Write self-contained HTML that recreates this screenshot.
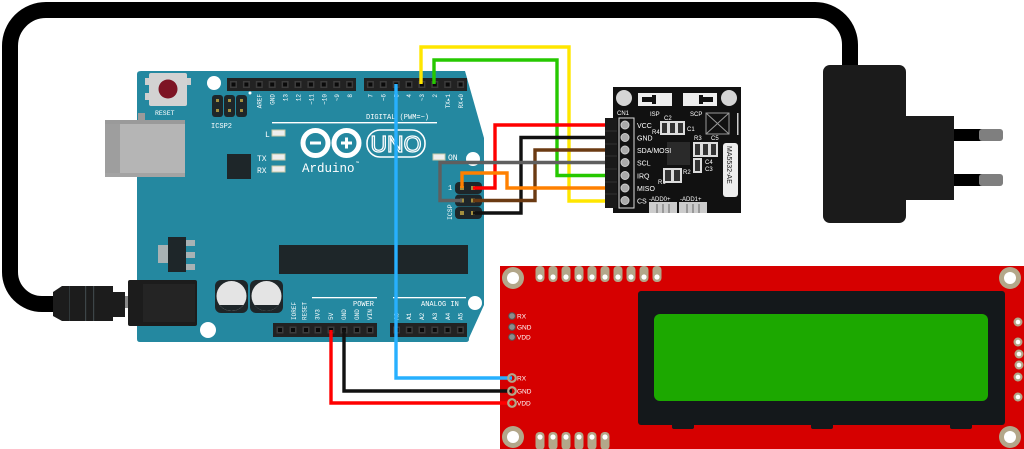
<!DOCTYPE html>
<html><head><meta charset="utf-8"><style>
html,body{margin:0;padding:0;background:#fff;}
svg{display:block;}
text{font-family:"Liberation Mono",monospace;}
.s{font-family:"Liberation Sans",sans-serif;}
</style></head><body>
<svg width="1024" height="449" viewBox="0 0 1024 449" xmlns="http://www.w3.org/2000/svg">
<defs>
<g id="p"><rect x="-3.5" y="-3.5" width="7" height="7" fill="#3c3c3c"/><rect x="-2" y="-2" width="4" height="4" fill="#0a0a0a"/></g>
<g id="tp"><rect x="-4.5" y="0" width="9" height="16" rx="4" fill="#b3a78a"/><circle cx="0" cy="11" r="2.6" fill="#fff"/></g>
<g id="bp"><rect x="-4.5" y="0" width="9" height="18" rx="4" fill="#b3a78a"/><circle cx="0" cy="5" r="2.6" fill="#fff"/></g>
</defs>
<rect width="1024" height="449" fill="#fff"/>

<!-- power cable -->
<path d="M850,72 V46 A35,35 0 0 0 815,10 H46 A36,36 0 0 0 10,46 V272 A32,32 0 0 0 42,304 H60" fill="none" stroke="#000" stroke-width="16"/>
<!-- adapter -->
<rect x="823" y="65" width="83" height="158" rx="7" fill="#1b1b1b"/>
<rect x="906" y="116" width="48" height="84" fill="#1b1b1b"/>
<rect x="954" y="129" width="28" height="12" fill="#000"/>
<rect x="979" y="129" width="24" height="12" rx="3" fill="#7f7f7f"/>
<rect x="954" y="174" width="28" height="12" fill="#000"/>
<rect x="979" y="174" width="24" height="12" rx="3" fill="#7f7f7f"/>

<!-- Arduino board -->
<path d="M141,71 H465 L484,138 V305 L469,338 V339 Q469,342 466,342 H140 Q137,342 137,339 V74 Q137,71 141,71 Z" fill="#2488a0"/>
<!-- USB -->
<rect x="138" y="113" width="7" height="8" fill="#9a9a9a"/>
<rect x="105" y="120" width="80" height="57" fill="#b5b5b5"/>
<rect x="105" y="120" width="15" height="57" fill="#9e9e9e"/>
<rect x="105" y="120" width="80" height="4" fill="#9a9a9a"/>
<rect x="105" y="173" width="80" height="4" fill="#a3a3a3"/>
<!-- reset -->
<rect x="145" y="78" width="5" height="7" fill="#cfcfcf"/><rect x="145" y="93" width="5" height="7" fill="#cfcfcf"/>
<rect x="186" y="78" width="5" height="7" fill="#cfcfcf"/>
<rect x="149" y="73" width="38" height="33" rx="2" fill="#d2d2d2"/>
<circle cx="168" cy="89" r="9.5" fill="#7d1424"/>
<text x="155" y="115" font-size="6.5" fill="#fff">RESET</text>
<circle cx="214" cy="83" r="7" fill="#fff"/>
<!-- ICSP2 -->
<rect x="212" y="95" width="11" height="22" rx="3" fill="#1e2629"/>
<rect x="224" y="95" width="11" height="22" rx="3" fill="#1e2629"/>
<rect x="236" y="95" width="11" height="22" rx="3" fill="#1e2629"/>
<rect x="216" y="99" width="3" height="3" fill="#a38f3f"/><rect x="216" y="109" width="3" height="3" fill="#a38f3f"/>
<rect x="228" y="99" width="3" height="3" fill="#a38f3f"/><rect x="228" y="109" width="3" height="3" fill="#a38f3f"/>
<rect x="240" y="99" width="3" height="3" fill="#a38f3f"/><rect x="240" y="109" width="3" height="3" fill="#a38f3f"/>
<circle cx="250" cy="93" r="1.5" fill="#fff"/>
<text x="211" y="128" font-size="7" fill="#fff">ICSP2</text>

<!-- digital headers -->
<rect x="227" y="78" width="129" height="13" fill="#222"/>
<rect x="364" y="78" width="103" height="13" fill="#222"/>
<use href="#p" x="233.5" y="84.5"/><use href="#p" x="246.4" y="84.5"/><use href="#p" x="259.3" y="84.5"/><use href="#p" x="272.2" y="84.5"/><use href="#p" x="285.1" y="84.5"/><use href="#p" x="298" y="84.5"/><use href="#p" x="310.9" y="84.5"/><use href="#p" x="323.8" y="84.5"/><use href="#p" x="336.7" y="84.5"/><use href="#p" x="349.6" y="84.5"/>
<use href="#p" x="370.4" y="84.5"/><use href="#p" x="383.3" y="84.5"/><use href="#p" x="396.2" y="84.5"/><use href="#p" x="409" y="84.5"/><use href="#p" x="421.9" y="84.5"/><use href="#p" x="434.8" y="84.5"/><use href="#p" x="447.7" y="84.5"/><use href="#p" x="460.6" y="84.5"/>
<g font-size="6" fill="#fff" text-anchor="end">
<text transform="translate(261.5,94) rotate(-90)">AREF</text>
<text transform="translate(274.5,94) rotate(-90)">GND</text>
<text transform="translate(287.5,94) rotate(-90)">13</text>
<text transform="translate(300.5,94) rotate(-90)">12</text>
<text transform="translate(313.5,94) rotate(-90)">~11</text>
<text transform="translate(326.5,94) rotate(-90)">~10</text>
<text transform="translate(339,94) rotate(-90)">~9</text>
<text transform="translate(352,94) rotate(-90)">8</text>
<text transform="translate(372.5,94) rotate(-90)">7</text>
<text transform="translate(385.5,94) rotate(-90)">~6</text>
<text transform="translate(398.5,94) rotate(-90)">~5</text>
<text transform="translate(411,94) rotate(-90)">4</text>
<text transform="translate(424,94) rotate(-90)">~3</text>
<text transform="translate(437,94) rotate(-90)">2</text>
<text transform="translate(450,94) rotate(-90)">TX▸1</text>
<text transform="translate(463,94) rotate(-90)">RX◂0</text>
</g>
<rect x="272" y="122" width="165" height="1.4" fill="#fff"/>
<text x="366" y="119" font-size="7" fill="#fff">DIGITAL (PWM=~)</text>

<!-- LEDs -->
<rect x="272" y="130" width="13" height="6" fill="#eee" stroke="#c9c9a8" stroke-width="1"/>
<rect x="272" y="154" width="13" height="6" fill="#eee" stroke="#c9c9a8" stroke-width="1"/>
<rect x="272" y="166" width="13" height="6" fill="#eee" stroke="#c9c9a8" stroke-width="1"/>
<rect x="433" y="154" width="12" height="6" fill="#eee" stroke="#c9c9a8" stroke-width="1"/>
<text x="265" y="137" font-size="8" fill="#fff">L</text>
<text x="257" y="161" font-size="8" fill="#fff">TX</text>
<text x="257" y="173" font-size="8" fill="#fff">RX</text>
<text x="448" y="160" font-size="8" fill="#fff">ON</text>
<circle cx="473" cy="159" r="7" fill="#fff"/>
<!-- chip -->
<rect x="227" y="154" width="24" height="25" fill="#1e2629"/>
<!-- logo -->
<circle cx="315.5" cy="143" r="12.5" fill="none" stroke="#fff" stroke-width="5"/>
<circle cx="346.5" cy="143" r="12.5" fill="none" stroke="#fff" stroke-width="5"/>
<rect x="310" y="141.5" width="11" height="3" fill="#fff"/>
<rect x="341" y="141.5" width="11" height="3" fill="#fff"/>
<rect x="345" y="137.5" width="3" height="11" fill="#fff"/>
<text x="302" y="172" font-size="12.5" fill="#fff">Arduino</text>
<text x="356" y="165" font-size="5" fill="#fff">™</text>
<rect x="367" y="130" width="58" height="27" rx="13" fill="none" stroke="#fff" stroke-width="1.6"/>
<text x="396" y="152" font-size="23" text-anchor="middle" class="s" fill="none" stroke="#fff" stroke-width="1.3">UNO</text>

<!-- regulator -->
<rect x="158" y="245" width="11" height="18" fill="#a8b2b4"/>
<rect x="186" y="240" width="9" height="6" fill="#a8b2b4"/>
<rect x="186" y="252" width="9" height="6" fill="#a8b2b4"/>
<rect x="186" y="264" width="9" height="6" fill="#a8b2b4"/>
<rect x="168" y="237" width="18" height="35" fill="#1e2629"/>
<!-- atmega -->
<rect x="279" y="245" width="189" height="29" fill="#1e2629"/>
<!-- capacitors -->
<rect x="215" y="280" width="33" height="33" rx="6" fill="#1e2629"/>
<circle cx="231.5" cy="296" r="15" fill="#e4e4e4"/>
<path d="M219.5,305 A15,15 0 0 0 243.5,305 Z" fill="#1e2629"/>
<rect x="250" y="280" width="33" height="33" rx="6" fill="#1e2629"/>
<circle cx="266.5" cy="296" r="15" fill="#e4e4e4"/>
<path d="M254.5,305 A15,15 0 0 0 278.5,305 Z" fill="#1e2629"/>
<circle cx="208" cy="330" r="8" fill="#fff"/>
<circle cx="475" cy="303" r="7" fill="#fff"/>

<!-- power jack -->
<rect x="120" y="296" width="10" height="12" fill="#8a8a8a"/>
<rect x="128" y="280" width="69" height="46" rx="2" fill="#1c1c1c"/>
<rect x="143" y="284" width="52" height="38" fill="#242424"/>
<path d="M53,292 L62,286 H113 V292 H125 V317 H113 V321 H62 L53,316 Z" fill="#1c1c1c"/>
<rect x="85" y="286" width="1.2" height="35" fill="#3d4548"/>
<rect x="93" y="286" width="1.2" height="35" fill="#3d4548"/>
<rect x="69" y="286" width="1" height="35" fill="#30383a"/>

<!-- power/analog headers -->
<rect x="273" y="323" width="104" height="14" fill="#222"/>
<rect x="390" y="323" width="77" height="14" fill="#222"/>
<use href="#p" x="280" y="330"/><use href="#p" x="293" y="330"/><use href="#p" x="306" y="330"/><use href="#p" x="318" y="330"/><use href="#p" x="331" y="330"/><use href="#p" x="344" y="330"/><use href="#p" x="357" y="330"/><use href="#p" x="370" y="330"/>
<use href="#p" x="396.5" y="330"/><use href="#p" x="409.3" y="330"/><use href="#p" x="422" y="330"/><use href="#p" x="434.8" y="330"/><use href="#p" x="447.6" y="330"/><use href="#p" x="460.4" y="330"/>
<g font-size="6" fill="#fff">
<text transform="translate(296,320) rotate(-90)">IOREF</text>
<text transform="translate(306.5,320) rotate(-90)">RESET</text>
<text transform="translate(319.5,320) rotate(-90)">3V3</text>
<text transform="translate(333,320) rotate(-90)">5V</text>
<text transform="translate(346,320) rotate(-90)">GND</text>
<text transform="translate(359,320) rotate(-90)">GND</text>
<text transform="translate(372,320) rotate(-90)">VIN</text>
<text transform="translate(398.5,320) rotate(-90)">A0</text>
<text transform="translate(411,320) rotate(-90)">A1</text>
<text transform="translate(424,320) rotate(-90)">A2</text>
<text transform="translate(437,320) rotate(-90)">A3</text>
<text transform="translate(450,320) rotate(-90)">A4</text>
<text transform="translate(462.5,320) rotate(-90)">A5</text>
</g>
<rect x="312" y="297" width="65" height="1.3" fill="#fff"/>
<rect x="393" y="297" width="73" height="1.3" fill="#fff"/>
<text x="353" y="306" font-size="7" fill="#fff">POWER</text>
<text x="421" y="306" font-size="7" fill="#fff">ANALOG IN</text>

<!-- ICSP header -->
<rect x="455" y="182" width="27" height="12" rx="4" fill="#1e2629"/>
<rect x="455" y="194.5" width="27" height="12" rx="4" fill="#1e2629"/>
<rect x="455" y="207" width="27" height="12" rx="4" fill="#1e2629"/>
<rect x="460" y="186" width="4" height="4" fill="#a38f3f"/><rect x="471" y="186" width="4" height="4" fill="#a38f3f"/>
<rect x="460" y="198.5" width="4" height="4" fill="#a38f3f"/><rect x="471" y="198.5" width="4" height="4" fill="#a38f3f"/>
<rect x="460" y="211" width="4" height="4" fill="#a38f3f"/><rect x="471" y="211" width="4" height="4" fill="#a38f3f"/>
<text x="448" y="190" font-size="7" fill="#fff">1</text>
<text transform="translate(452,220) rotate(-90)" font-size="6.5" fill="#fff">ICSP</text>

<!-- NFC module -->
<rect x="613" y="87" width="128" height="126" fill="#111"/>
<circle cx="624" cy="98" r="8" fill="#d5d5d5"/>
<circle cx="729" cy="98" r="8" fill="#d5d5d5"/>
<rect x="638" y="93" width="34" height="13" fill="#eee"/>
<rect x="642" y="97" width="14" height="5" fill="#111"/><rect x="652" y="95" width="4" height="9" fill="#111"/>
<rect x="683" y="93" width="34" height="13" fill="#eee"/>
<rect x="699" y="97" width="14" height="5" fill="#111"/><rect x="699" y="95" width="4" height="9" fill="#111"/>
<g font-size="6" fill="#fff" class="s">
<text x="617" y="115" class="s">CN1</text>
<text x="650" y="116" class="s">ISP</text>
<text x="690" y="116" class="s">SCP</text>
<text x="664" y="120" class="s">C2</text>
<text x="652" y="134" class="s">R4</text>
<text x="687" y="131" class="s">C1</text>
<text x="694" y="140" class="s">R3</text>
<text x="711" y="140" class="s">C5</text>
<text x="705" y="164" class="s">C4</text>
<text x="705" y="171" class="s">C3</text>
<text x="658" y="184" class="s">R1</text>
<text x="683" y="174" class="s">R2</text>
</g>
<rect x="660" y="121" width="25" height="14" fill="#ddd"/>
<rect x="662" y="123" width="5" height="10" fill="#333"/><rect x="670" y="123" width="5" height="10" fill="#333"/><rect x="678" y="123" width="5" height="10" fill="#333"/>
<rect x="667" y="142" width="23" height="23" fill="#2a2a2a"/>
<rect x="693" y="142" width="25" height="15" fill="#ddd"/>
<rect x="695" y="144" width="5" height="11" fill="#333"/><rect x="703" y="144" width="5" height="11" fill="#333"/><rect x="711" y="144" width="5" height="11" fill="#333"/>
<rect x="693" y="158" width="9" height="15" fill="#ddd"/><rect x="695" y="160" width="5" height="11" fill="#333"/>
<rect x="663" y="168" width="19" height="15" fill="#ddd"/>
<rect x="665" y="170" width="6" height="11" fill="#333"/><rect x="674" y="170" width="6" height="11" fill="#333"/>
<rect x="706" y="113" width="23" height="21" fill="none" stroke="#999" stroke-width="1"/>
<path d="M706,113 L729,134 M729,113 L706,134" stroke="#999" stroke-width="1"/>
<rect x="737" y="113" width="1.5" height="22" fill="#ccc"/>
<rect x="723" y="143" width="15" height="54" rx="3" fill="#eee"/>
<text transform="translate(727,146) rotate(90)" font-size="7" fill="#111" class="s">MA5532-AE</text>
<rect x="649" y="202" width="28" height="11" fill="#ccc"/>
<rect x="679" y="202" width="28" height="11" fill="#ccc"/>
<path d="M657,204 V213 M663,204 V213 M669,204 V213 M687,204 V213 M693,204 V213 M699,204 V213" stroke="#666" stroke-width="1"/>
<text x="649" y="201" font-size="6" fill="#fff" class="s">-ADD0+</text>
<text x="680" y="201" font-size="6" fill="#fff" class="s">-ADD1+</text>
<rect x="619" y="118" width="15" height="90" fill="none" stroke="#ddd" stroke-width="1"/>
<g fill="#a9a9a9" stroke="#ccc" stroke-width="1">
<circle cx="625" cy="125" r="4"/><circle cx="625" cy="137.5" r="4"/><circle cx="625" cy="150" r="4"/><circle cx="625" cy="162.5" r="4"/><circle cx="625" cy="175.5" r="4"/><circle cx="625" cy="188" r="4"/><circle cx="625" cy="200.5" r="4"/>
</g>
<g font-size="7" fill="#fff" class="s">
<text x="637" y="128" class="s">VCC</text>
<text x="637" y="140.5" class="s">GND</text>
<text x="637" y="153" class="s">SDA/MOSI</text>
<text x="637" y="165.5" class="s">SCL</text>
<text x="637" y="178.5" class="s">IRQ</text>
<text x="637" y="191" class="s">MISO</text>
<text x="637" y="203.5" class="s">CS</text>
</g>

<!-- LCD board -->
<rect x="500" y="266" width="530" height="190" fill="#d60000"/>
<g fill="#b3a78a"><circle cx="513" cy="278" r="11"/><circle cx="1010" cy="278" r="11"/><circle cx="513" cy="437" r="11"/><circle cx="1010" cy="437" r="11"/></g>
<g fill="#fff"><circle cx="513" cy="278" r="6"/><circle cx="1010" cy="278" r="6"/><circle cx="513" cy="437" r="6"/><circle cx="1010" cy="437" r="6"/></g>
<use href="#tp" x="540" y="266"/><use href="#tp" x="553" y="266"/><use href="#tp" x="566" y="266"/><use href="#tp" x="579" y="266"/><use href="#tp" x="592" y="266"/><use href="#tp" x="605" y="266"/><use href="#tp" x="618" y="266"/><use href="#tp" x="631" y="266"/><use href="#tp" x="644" y="266"/><use href="#tp" x="657" y="266"/>
<use href="#bp" x="540" y="432"/><use href="#bp" x="553" y="432"/><use href="#bp" x="566" y="432"/><use href="#bp" x="579" y="432"/><use href="#bp" x="592" y="432"/><use href="#bp" x="605" y="432"/>
<g fill="#b3a78a"><circle cx="1018" cy="322" r="4.5"/><circle cx="1018" cy="342" r="4.5"/><circle cx="1019" cy="354" r="4.5"/><circle cx="1019" cy="365" r="4.5"/><circle cx="1018" cy="377" r="4.5"/><circle cx="1018" cy="397" r="4.5"/></g>
<g fill="#fff"><circle cx="1018" cy="322" r="2.3"/><circle cx="1018" cy="342" r="2.3"/><circle cx="1019" cy="354" r="2.3"/><circle cx="1019" cy="365" r="2.3"/><circle cx="1018" cy="377" r="2.3"/><circle cx="1018" cy="397" r="2.3"/></g>
<rect x="638" y="291" width="367" height="134" rx="3" fill="#14181b"/>
<rect x="672" y="423" width="22" height="6" rx="2" fill="#14181b"/>
<rect x="811" y="423" width="22" height="6" rx="2" fill="#14181b"/>
<rect x="950" y="423" width="22" height="6" rx="2" fill="#14181b"/>
<rect x="654" y="314" width="334" height="87" rx="6" fill="#1ca800"/>
<g fill="#8c8c8c" stroke="#555" stroke-width="1"><circle cx="512" cy="316" r="3.3"/><circle cx="512" cy="327" r="3.3"/><circle cx="512" cy="337" r="3.3"/></g>
<g font-size="6.5" fill="#fff" class="s">
<text x="517" y="318.5" class="s">RX</text><text x="517" y="329.5" class="s">GND</text><text x="517" y="339.5" class="s">VDD</text>
<text x="517" y="380.5" class="s">RX</text><text x="517" y="393.5" class="s">GND</text><text x="517" y="405.5" class="s">VDD</text>
</g>

<!-- wires -->
<g fill="none" stroke-width="3.4" stroke-linejoin="miter">
<path d="M421,84 V47 H569 V201 H610" stroke="#ffe600"/>
<path d="M434,84 V60 H557 V175.5 H610" stroke="#26c800"/>
<path d="M473,188 H495 V125 H610" stroke="#ff0000"/>
<path d="M473,213 H521 V137.5 H610" stroke="#111"/>
<path d="M473,200.5 H535 V150 H610" stroke="#6b3a12"/>
<path d="M462,200.5 H440 V162.5 H610" stroke="#5f5f5f"/>
<path d="M462,188 V173 H507 V188 H610" stroke="#ff8000"/>
<path d="M396,84 V378 H512" stroke="#27b0ff"/>
<path d="M344,330 V391 H512" stroke="#111"/>
<path d="M331,330 V403 H512" stroke="#ff0000"/>
</g>
<!-- NFC connector strip -->
<rect x="605" y="118" width="12" height="90" fill="#1a1a1a"/>
<path d="M605,131 H617 M605,144 H617 M605,156 H617 M605,169 H617 M605,182 H617 M605,194 H617" stroke="#333" stroke-width="1"/>
<!-- LCD lower pads over wires -->
<g fill="none" stroke="#b3a78a" stroke-width="2.2"><circle cx="512" cy="378" r="3.8"/><circle cx="512" cy="391" r="3.8"/><circle cx="512" cy="403" r="3.8"/></g>
</svg>
</body></html>
